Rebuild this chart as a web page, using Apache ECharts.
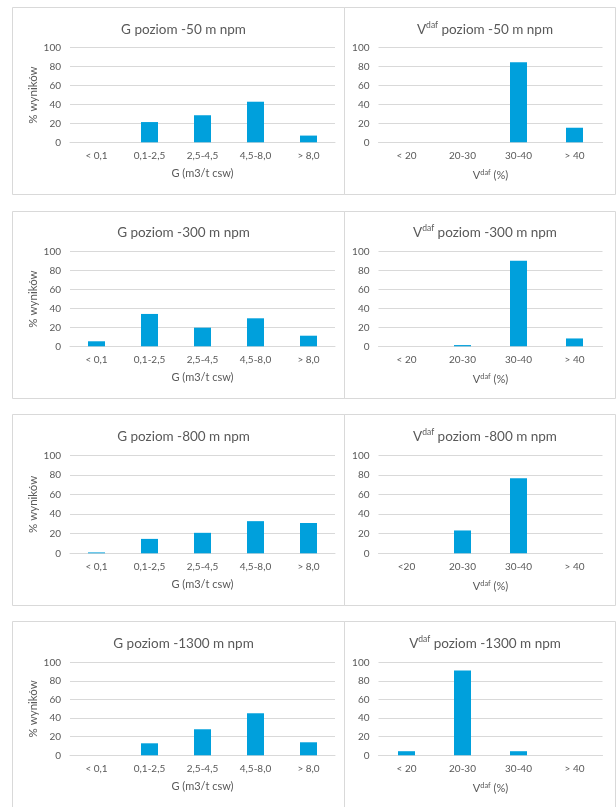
<!DOCTYPE html>
<html>
<head>
<meta charset="utf-8">
<script src="https://cdn.jsdelivr.net/npm/echarts@6/dist/echarts.min.js"></script>
<style>
  html, body { margin: 0; padding: 0; background: #ffffff; }
  #chart { width: 616px; height: 807px; }
</style>
</head>
<body>
<div id="chart"></div>
<script>
// Gas content (G) and volatile matter (Vdaf) distributions at four depth levels
var levels = ['-50', '-300', '-800', '-1300'];
var catsG = ['< 0,1', '0,1-2,5', '2,5-4,5', '4,5-8,0', '> 8,0'];
var catsV = ['< 20', '20-30', '30-40', '> 40'];
var catsV800 = ['<20', '20-30', '30-40', '> 40'];
var yTicks = [0, 20, 40, 60, 80, 100];

var gValues50 = [0, 21.4, 28.6, 42.9, 7.1];
var gValues300 = [5.3, 34.2, 19.7, 29.6, 11.2];
var gValues800 = [0.9, 14.7, 20.9, 32.8, 30.9];
var gValues1300 = [0, 12.9, 28.0, 45.2, 14.0];

var vValues50 = [0, 0, 84.6, 15.4];
var vValues300 = [0, 1.3, 90.4, 8.3];
var vValues800 = [0, 23.3, 76.7, 0];
var vValues1300 = [4.4, 91.2, 4.4, 0];

var gSeries = [gValues50, gValues300, gValues800, gValues1300];
var vSeries = [vValues50, vValues300, vValues800, vValues1300];
var vCats = [catsV, catsV, catsV800, catsV];

var FONT = 'Lato';
var TXT = '#595959';
var GRIDC = '#d9d9d9';
var BAR = '#00a0dc';

// layout of the 4 rows: panel frame and plot area
var rows = [
  { boxTop: 7.5,   boxBottom: 194.5, plotTop: 47.7,  plotH: 94.6, titleY: 18 },
  { boxTop: 211.5, boxBottom: 398.5, plotTop: 251.7, plotH: 94.6, titleY: 221 },
  { boxTop: 414.5, boxBottom: 605.5, plotTop: 455.3, plotH: 98,   titleY: 425 },
  { boxTop: 621.5, boxBottom: 830,   plotTop: 662.3, plotH: 93,   titleY: 632 }
];
var leftBox = { x0: 12.5, x1: 344.5, plotLeft: 70, plotW: 265 };
var rightBox = { x0: 344.5, x1: 615.5, plotLeft: 378.5, plotW: 224 };

// rich styles for "V" with the "daf" superscript
function richSet(big, small) {
  return {
    v: { fontFamily: FONT, color: TXT, fontSize: big, lineHeight: big + 3 },
    s: { fontFamily: FONT, color: TXT, fontSize: small, verticalAlign: 'top', lineHeight: big + 3 },
    t: { fontFamily: FONT, color: TXT, fontSize: big, lineHeight: big + 3 }
  };
}

var titles = [], grids = [], xAxes = [], yAxes = [], series = [], graphics = [];

rows.forEach(function (r, i) {
  // panel frames
  [leftBox, rightBox].forEach(function (b) {
    graphics.push({
      type: 'rect',
      shape: { x: b.x0, y: r.boxTop, width: b.x1 - b.x0, height: r.boxBottom - r.boxTop },
      style: { fill: null, stroke: GRIDC, lineWidth: 1 },
      silent: true, z: -1
    });
  });

  titles.push({
    text: 'G poziom ' + levels[i] + ' m npm',
    left: (leftBox.x0 + leftBox.x1) / 2, top: r.titleY, textAlign: 'center',
    textStyle: { fontFamily: FONT, fontSize: 13.5, fontWeight: 'normal', color: TXT }
  });
  titles.push({
    text: '{v|V}{s|daf}{t| poziom ' + levels[i] + ' m npm}',
    left: (rightBox.x0 + rightBox.x1) / 2, top: r.titleY - 2, textAlign: 'center',
    textStyle: { fontFamily: FONT, fontSize: 13.5, fontWeight: 'normal', color: TXT, rich: richSet(13.5, 8.5) }
  });

  var gi = grids.length;
  grids.push({ left: leftBox.plotLeft, top: r.plotTop, width: leftBox.plotW, height: r.plotH });
  grids.push({ left: rightBox.plotLeft, top: r.plotTop, width: rightBox.plotW, height: r.plotH });

  var xCommon = {
    type: 'category',
    axisLine: { lineStyle: { color: GRIDC, width: 1 } },
    axisTick: { show: false },
    axisLabel: { fontFamily: FONT, fontSize: 10, color: TXT, margin: 8, interval: 0 },
    nameLocation: 'middle', nameGap: 26
  };
  xAxes.push(Object.assign({}, xCommon, {
    gridIndex: gi, data: catsG, name: 'G (m3/t csw)',
    nameTextStyle: { fontFamily: FONT, fontSize: 11, color: TXT }
  }));
  xAxes.push(Object.assign({}, xCommon, {
    gridIndex: gi + 1, data: vCats[i], name: '{v|V}{s|daf}{t| (%)}',
    nameTextStyle: { fontFamily: FONT, fontSize: 11, color: TXT, rich: richSet(11, 7.5) }
  }));

  var yCommon = {
    type: 'value', min: yTicks[0], max: yTicks[yTicks.length - 1], interval: yTicks[1] - yTicks[0],
    axisLine: { show: false }, axisTick: { show: false },
    splitLine: { lineStyle: { color: GRIDC, width: 1 } },
    axisLabel: { fontFamily: FONT, fontSize: 10, color: TXT, margin: 9 }
  };
  yAxes.push(Object.assign({}, yCommon, {
    gridIndex: gi, name: '% wyników', nameLocation: 'middle', nameGap: 31, nameRotate: 90,
    nameTextStyle: { fontFamily: FONT, fontSize: 11.5, color: TXT }
  }));
  yAxes.push(Object.assign({}, yCommon, { gridIndex: gi + 1 }));

  series.push({
    type: 'bar', xAxisIndex: gi, yAxisIndex: gi, data: gSeries[i],
    barWidth: 17, itemStyle: { color: BAR }, silent: true
  });
  series.push({
    type: 'bar', xAxisIndex: gi + 1, yAxisIndex: gi + 1, data: vSeries[i],
    barWidth: 17, itemStyle: { color: BAR }, silent: true
  });
});

var chart = echarts.init(document.getElementById('chart'), null, { renderer: 'canvas' });
chart.setOption({
  backgroundColor: '#ffffff',
  animation: false,
  title: titles,
  grid: grids,
  xAxis: xAxes,
  yAxis: yAxes,
  series: series,
  graphic: graphics
});
</script>
</body>
</html>
